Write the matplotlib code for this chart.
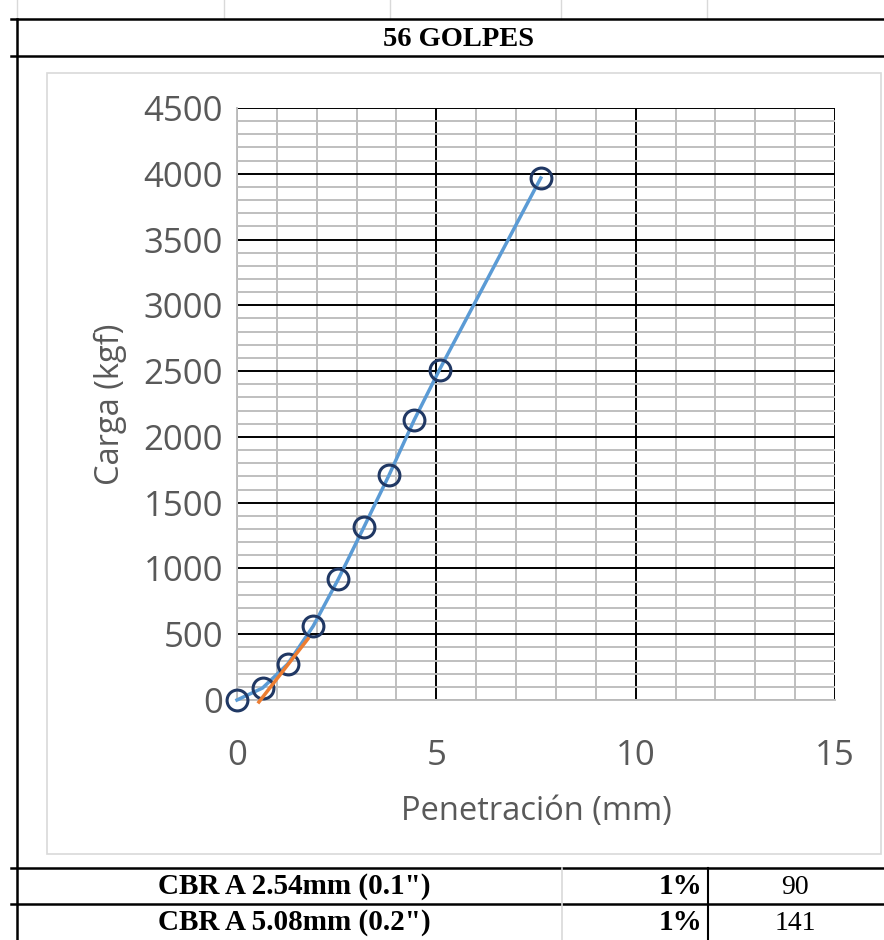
import matplotlib.pyplot as plt
from matplotlib.lines import Line2D
from matplotlib.patches import Rectangle
from matplotlib.ticker import MultipleLocator

# datos del ensayo
penetracion = [0, 0.64, 1.27, 1.91, 2.54, 3.18, 3.81, 4.45, 5.08, 7.62]
carga = [0, 91, 273, 561, 918, 1312, 1707, 2132, 2511, 3968]

# linea de correccion
corr_x = [0.55, 1.78]
corr_y = [-15, 465]

titulo = "56 GOLPES"
filas_cbr = ['CBR A 2.54mm (0.1")', 'CBR A 5.08mm (0.2")']
pct_cbr = ["1%", "1%"]
valores_cbr = ["90", "141"]

W, H = 884, 940
fig = plt.figure(figsize=(W / 100, H / 100), dpi=100)


def fx(x):
    return x / W


def fy(y):
    return 1 - y / H


def linea(x0, y0, x1, y1, color="black", lw=1.8):
    fig.add_artist(Line2D([fx(x0), fx(x1)], [fy(y0), fy(y1)], color=color, lw=lw,
                          transform=fig.transFigure))


# celdas de la hoja
for xc in [17, 224, 390, 561, 707]:
    linea(xc, 0, xc, 19, color="#d9d9d9", lw=1)
linea(17, 19, 17, 940)
for yr in [19, 56, 868, 904]:
    linea(11, yr, 884, yr)
linea(562, 868, 562, 940, color="#d9d9d9", lw=1.2)
linea(708, 868, 708, 940, lw=1.5)

serif = "Liberation Serif"
fig.text(fx(459), fy(39), titulo, ha="center", va="center", fontsize=20.5,
         fontweight="bold", family=serif)
for i, (f, p, v) in enumerate(zip(filas_cbr, pct_cbr, valores_cbr)):
    yy = fy(887 + i * 36)
    fig.text(fx(294), yy, f, ha="center", va="center", fontsize=21, fontweight="bold", family=serif)
    fig.text(fx(702), yy, p, ha="right", va="center", fontsize=21, fontweight="bold", family=serif)
    fig.text(fx(795), yy, v, ha="center", va="center", fontsize=20, family=serif)

# marco del grafico
fig.add_artist(Rectangle((fx(47), fy(854)), fx(881 - 47), (854 - 73) / H, fill=False,
                         edgecolor="#d9d9d9", lw=1.2, transform=fig.transFigure))

ax = fig.add_axes([fx(237), fy(700), fx(835 - 237), (700 - 108) / H])
ax.set_xlim(0, 15)
ax.set_ylim(0, 4500)
ax.xaxis.set_major_locator(MultipleLocator(5))
ax.xaxis.set_minor_locator(MultipleLocator(1))
ax.yaxis.set_major_locator(MultipleLocator(500))
ax.yaxis.set_minor_locator(MultipleLocator(100))
ax.grid(which="minor", color="#bfbfbf", lw=1.4)
ax.grid(which="major", color="black", lw=1.4)
ax.set_axisbelow(True)
for s in ["top", "right"]:
    ax.spines[s].set_visible(False)
for s in ["left", "bottom"]:
    ax.spines[s].set_color("#bfbfbf")
    ax.spines[s].set_linewidth(1.4)
ax.tick_params(which="both", length=0, labelsize=25, labelcolor="#595959")
ax.tick_params(axis="y", pad=10)
ax.tick_params(axis="x", pad=28)
for lab in ax.get_xticklabels() + ax.get_yticklabels():
    lab.set_family("Open Sans")

ax.plot(penetracion, carga, color="#5b9bd5", lw=2.5, marker="o", ms=15, mfc="none",
        mec="#203864", mew=2.2, clip_on=False, zorder=4)
ax.plot(corr_x, corr_y, color="#ed7d31", lw=2.5, clip_on=False, zorder=5)

ax.set_xlabel("Penetración (mm)", fontsize=23.5, color="#595959", family="Open Sans", labelpad=16)
ax.set_ylabel("Carga (kgf)", fontsize=23.5, color="#595959", family="Open Sans", labelpad=12)

fig.savefig("out.png", dpi=100)
